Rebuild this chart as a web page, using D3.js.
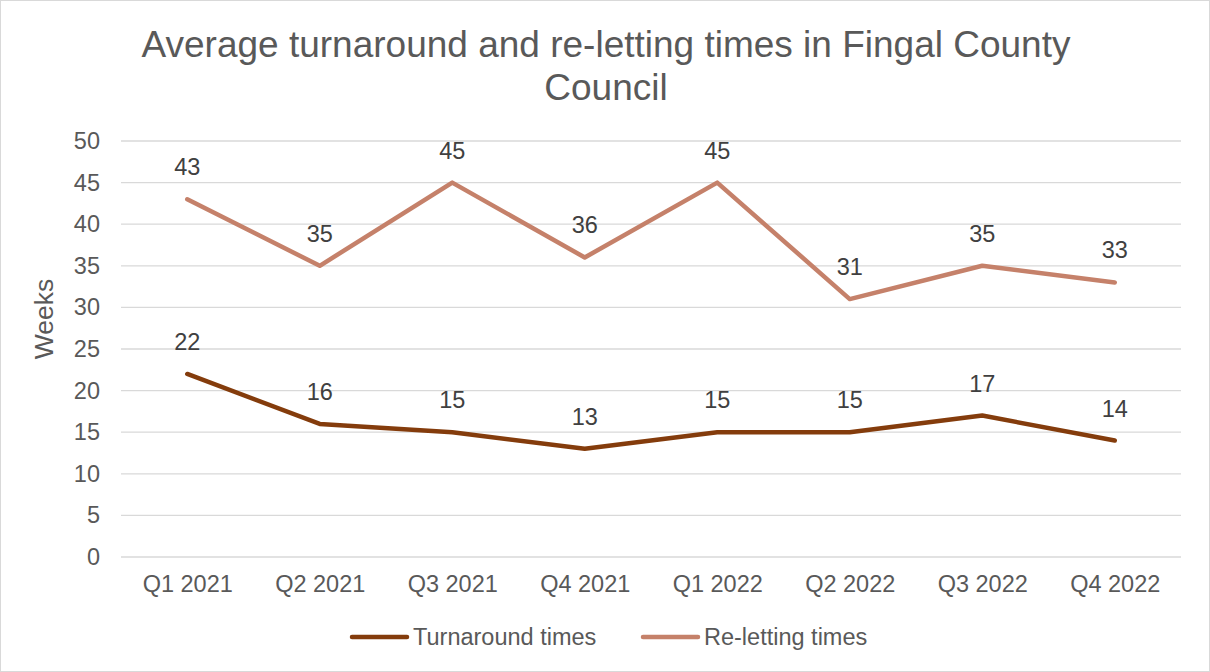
<!DOCTYPE html>
<html lang="en">
<meta charset="utf-8">
<title>Turnaround and re-letting times</title>
<head>
<style>
  body { margin: 0; background: #fff; }
  svg { display: block; font-family: "Liberation Sans", Arial, sans-serif; }
</style>
</head>
<body>
  <script src="https://d3js.org/d3.v7.min.js"></script>
  <div id="chart"></div>
  <script>
    // data
    var quarters = ["Q1 2021", "Q2 2021", "Q3 2021", "Q4 2021", "Q1 2022", "Q2 2022", "Q3 2022", "Q4 2022"];
    var turnaround = [22, 16, 15, 13, 15, 15, 17, 14];
    var reletting = [43, 35, 45, 36, 45, 31, 35, 33];
    var yTicks = [0, 5, 10, 15, 20, 25, 30, 35, 40, 45, 50];
    var seriesNames = ["Turnaround times", "Re-letting times"];
    var seriesColors = ["#843c0c", "#c5816a"];

    var W = 1210, H = 672;
    var margin = { top: 141, right: 29, bottom: 115, left: 121 },
      width = W - margin.left - margin.right,
      height = H - margin.top - margin.bottom;

    var svg = d3.select("#chart")
      .append("svg")
      .attr("width", W)
      .attr("height", H);

    // outer chart border
    svg.append("rect")
      .attr("x", 0.5).attr("y", 0.5)
      .attr("width", W - 1).attr("height", H - 1)
      .attr("fill", "#fff")
      .attr("stroke", "#d9d9d9");

    // title
    var title = svg.append("text")
      .attr("text-anchor", "middle")
      .attr("fill", "#595959")
      .style("font-size", "37px");
    title.append("tspan").attr("x", 606).attr("y", 57).text("Average turnaround and re-letting times in Fingal County");
    title.append("tspan").attr("x", 606).attr("y", 100).text("Council");

    var g = svg.append("g")
      .attr("transform", "translate(" + margin.left + "," + margin.top + ")");

    var x = d3.scalePoint()
      .domain(quarters)
      .range([0, width])
      .padding(0.5);

    var y = d3.scaleLinear()
      .domain([0, 50])
      .range([height, 0]);

    // gridlines
    g.selectAll(".grid")
      .data(yTicks)
      .enter()
      .append("line")
      .attr("x1", 0).attr("x2", width)
      .attr("y1", d => y(d)).attr("y2", d => y(d))
      .attr("stroke", "#d9d9d9")
      .attr("stroke-width", 1.3);

    // y axis labels
    var yAxis = g.append("g")
      .call(d3.axisLeft(y).tickValues(yTicks).tickSize(0).tickPadding(21));
    yAxis.select(".domain").remove();
    yAxis.selectAll("text")
      .attr("fill", "#595959")
      .style("font-size", "23.5px")
      .style("font-family", "Liberation Sans, Arial, sans-serif");

    // x axis labels
    var xAxis = g.append("g")
      .attr("transform", "translate(0," + height + ")")
      .call(d3.axisBottom(x).tickSize(0).tickPadding(18));
    xAxis.select(".domain").remove();
    xAxis.selectAll("text")
      .attr("fill", "#595959")
      .style("font-size", "23.5px")
      .style("font-family", "Liberation Sans, Arial, sans-serif");

    // y axis title
    svg.append("text")
      .attr("transform", "translate(53," + 319 + ") rotate(-90)")
      .attr("text-anchor", "middle")
      .attr("fill", "#595959")
      .style("font-size", "26.5px")
      .text("Weeks");

    var line = d3.line()
      .x((d, i) => x(quarters[i]))
      .y(d => y(d));

    var allSeries = [turnaround, reletting];

    allSeries.forEach(function (values, k) {
      g.append("path")
        .datum(values)
        .attr("fill", "none")
        .attr("stroke", seriesColors[k])
        .attr("stroke-width", 4.5)
        .attr("stroke-linejoin", "round")
        .attr("stroke-linecap", "round")
        .attr("d", line);

      g.selectAll(".lbl" + k)
        .data(values)
        .enter()
        .append("text")
        .attr("x", (d, i) => x(quarters[i]))
        .attr("y", d => y(d) - 24)
        .attr("text-anchor", "middle")
        .attr("fill", "#404040")
        .style("font-size", "23.5px")
        .text(d => d);
    });

    // legend
    var legendItems = [
      { name: seriesNames[0], color: seriesColors[0], x: 352 },
      { name: seriesNames[1], color: seriesColors[1], x: 643 }
    ];
    var legend = svg.selectAll(".legend")
      .data(legendItems)
      .enter()
      .append("g")
      .attr("transform", d => "translate(" + d.x + ",637)");
    legend.append("line")
      .attr("x1", 0).attr("x2", 55)
      .attr("stroke", d => d.color)
      .attr("stroke-width", 4.5)
      .attr("stroke-linecap", "round");
    legend.append("text")
      .attr("x", 61)
      .attr("y", 8)
      .attr("fill", "#595959")
      .style("font-size", "23.5px")
      .text(d => d.name);
  </script>
</body>
</html>
